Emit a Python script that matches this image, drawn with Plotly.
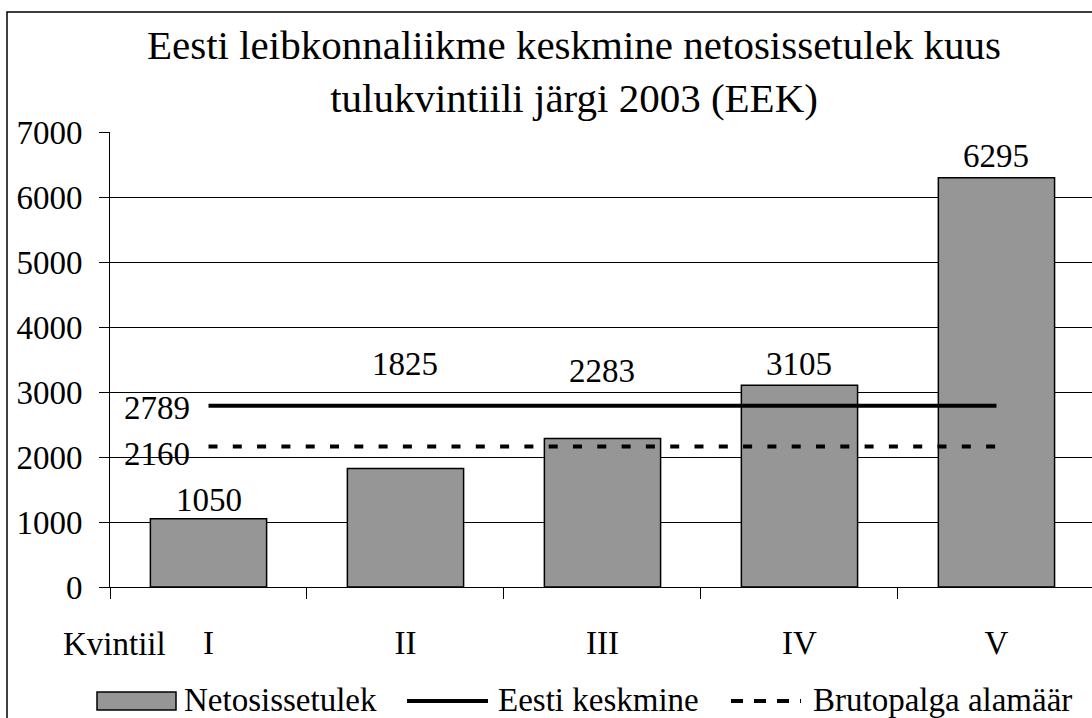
import plotly.graph_objects as go

# ---- data ----
categories = ["I", "II", "III", "IV", "V"]
net_income = [1050, 1825, 2283, 3105, 6295]
estonia_average = 2789
min_gross_wage = 2160
series_names = ["Netosissetulek", "Eesti keskmine", "Brutopalga alamäär"]
title_text = "Eesti leibkonnaliikme keskmine netosissetulek kuus<br>tulukvintiili järgi 2003 (EEK)"
x_axis_label = "Kvintiil"
y_ticks = [0, 1000, 2000, 3000, 4000, 5000, 6000, 7000]

# ---- layout constants ----
W, H = 1092, 718
L, R, T, B = 110, 0, 132, 131
PW, PH = W - L - R, H - T - B
FONT = "Liberation Serif, Times New Roman, serif"
BAR_COLOR = "#969696"


def px(x):
    return (x - L) / PW


def py(y):
    return (H - B - y) / PH


fig = go.Figure()
fig.add_trace(go.Bar(
    x=categories, y=net_income, name=series_names[0], width=0.59,
    marker=dict(color=BAR_COLOR, line=dict(color="black", width=1.5)),
    showlegend=False, hoverinfo="x+y",
))
fig.add_trace(go.Scatter(
    x=categories, y=[estonia_average] * len(categories), name=series_names[1],
    mode="lines", line=dict(color="black", width=4), showlegend=False,
))
fig.add_trace(go.Scatter(
    x=categories, y=[min_gross_wage] * len(categories), name=series_names[2],
    mode="lines", line=dict(color="black", width=4, dash="9px,15.3px"), showlegend=False,
))

annotations = []
# bar value labels (II and III sit above the average line, as in the source)
label_base = [net_income[0], estonia_average, estonia_average, net_income[3], net_income[4]]
label_shift = [19, 42, 35, 21, 22]
for c, v, base, s in zip(categories, net_income, label_base, label_shift):
    annotations.append(dict(x=c, y=base, yshift=s, text=str(v), showarrow=False,
                            xanchor="center", yanchor="middle",
                            font=dict(family=FONT, size=33, color="black")))
# reference line labels
annotations.append(dict(xref="paper", x=px(157), y=estonia_average, yshift=-2,
                        text=str(estonia_average), showarrow=False, xanchor="center",
                        yanchor="middle", font=dict(family=FONT, size=33, color="black")))
annotations.append(dict(xref="paper", x=px(157), y=min_gross_wage, yshift=-7,
                        text=str(min_gross_wage), showarrow=False, xanchor="center",
                        yanchor="middle", font=dict(family=FONT, size=33, color="black")))
# title
annotations.append(dict(xref="paper", yref="paper", x=px(574), y=py(71), text=title_text,
                        showarrow=False, xanchor="center", yanchor="middle",
                        font=dict(family=FONT, size=41, color="black")))
# axis label
annotations.append(dict(xref="paper", yref="paper", x=px(114), y=py(644), text=x_axis_label,
                        showarrow=False, xanchor="center", yanchor="middle",
                        font=dict(family=FONT, size=33, color="black")))

shapes = []
# chart border
shapes.append(dict(type="rect", xref="paper", yref="paper", x0=px(7), x1=px(1110),
                   y0=py(740), y1=py(12), line=dict(color="black", width=1.5),
                   fillcolor="rgba(0,0,0,0)"))
# manual legend
leg_y = 701
shapes.append(dict(type="rect", xref="paper", yref="paper", x0=px(97), x1=px(176),
                   y0=py(710), y1=py(692), line=dict(color="black", width=1.5),
                   fillcolor=BAR_COLOR))
shapes.append(dict(type="line", xref="paper", yref="paper", x0=px(407), x1=px(488),
                   y0=py(leg_y), y1=py(leg_y), line=dict(color="black", width=4)))
shapes.append(dict(type="line", xref="paper", yref="paper", x0=px(731), x1=px(801),
                   y0=py(leg_y), y1=py(leg_y), line=dict(color="black", width=4, dash="12px,11px")))
for name, xl in zip(series_names, [182, 496, 811]):
    annotations.append(dict(xref="paper", yref="paper", x=px(xl), y=py(700), text=name,
                            showarrow=False, xanchor="left", yanchor="middle",
                            font=dict(family=FONT, size=33, color="black")))

fig.update_layout(
    width=W, height=H,
    margin=dict(l=L, r=R, t=T, b=B, pad=0),
    paper_bgcolor="white", plot_bgcolor="white",
    font=dict(family=FONT, size=33, color="black"),
    showlegend=False,
    bargap=0.41,
    annotations=annotations,
    shapes=shapes,
    xaxis=dict(type="category", range=[-0.5, 4.485], tickson="boundaries",
               ticks="outside", ticklen=11, tickcolor="black", tickwidth=1,
               showline=True, linecolor="black", linewidth=1, showgrid=False,
               tickfont=dict(family=FONT, size=33, color="black"),
               ticklabelstandoff=26),
    yaxis=dict(range=[0, 7000], tickvals=y_ticks, showgrid=True, gridcolor="black",
               gridwidth=1, ticks="outside", ticklen=10, tickcolor="black",
               showline=True, linecolor="black", linewidth=1, zeroline=False,
               tickfont=dict(family=FONT, size=33, color="black"),
               ticklabelstandoff=10),
)

fig.write_html("out.html", config={"displayModeBar": False},
               post_script="document.body.style.margin='0';")
